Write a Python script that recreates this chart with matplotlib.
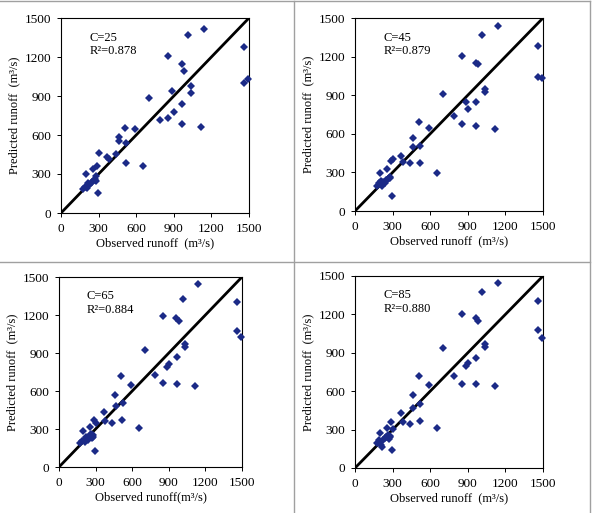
import numpy as np
import matplotlib.pyplot as plt
from matplotlib.lines import Line2D

plt.rcParams['font.family'] = ['Liberation Serif', 'DejaVu Serif']

# observed runoff (same for all four panels)
observed = [1141, 1017, 1463, 852, 963, 983, 1463, 1490, 1035, 1035,
            884, 704, 968, 905, 852, 790, 964, 1114, 508, 589,
            460, 464, 522, 437, 365, 380, 303, 520, 656, 254,
            290, 196, 292,
            175, 190, 205, 215, 225, 238, 250, 262, 270, 278, 282]

pred_c25 = [1413, 1372, 1277, 1210, 1149, 1092, 1003, 1031, 979, 921,
            936, 887, 838, 774, 731, 718, 687, 662, 654, 649,
            587, 554, 538, 456, 431, 412, 460, 384, 358, 342,
            363, 301, 157,
            187, 200, 190, 233, 218, 228, 240, 256, 259, 282, 250]
pred_c45 = [1438, 1365, 1280, 1202, 1150, 1145, 1039, 1030, 947, 927,
            848, 906, 846, 794, 675, 740, 659, 638, 690, 646,
            568, 496, 506, 376, 428, 378, 402, 370, 293, 330,
            389, 294, 117,
            195, 216, 236, 195, 225, 220, 240, 247, 255, 267, 258]
pred_c65 = [1445, 1329, 1303, 1195, 1174, 1153, 1074, 1024, 968, 947,
            789, 926, 866, 816, 663, 724, 658, 642, 716, 650,
            568, 480, 502, 350, 437, 364, 350, 368, 310, 315,
            369, 284, 126,
            189, 208, 216, 197, 237, 216, 250, 263, 232, 250, 240]
pred_c85 = [1443, 1375, 1302, 1200, 1172, 1146, 1076, 1016, 966, 945,
            797, 940, 859, 823, 659, 719, 659, 638, 719, 651,
            572, 471, 502, 340, 430, 357, 302, 366, 315, 310,
            357, 276, 141,
            193, 219, 180, 167, 219, 232, 245, 258, 230, 250, 240]

c_labels = ['C=25', 'C=45', 'C=65', 'C=85']
r2_labels = ['R\u00b2=0.878', 'R\u00b2=0.879', 'R\u00b2=0.884', 'R\u00b2=0.880']
x_titles = ['Observed runoff  (m\u00b3/s)', 'Observed runoff  (m\u00b3/s)',
            'Observed runoff(m\u00b3/s)', 'Observed runoff  (m\u00b3/s)']
ticks = [0, 300, 600, 900, 1200, 1500]

W, H = 593, 513
fig = plt.figure(figsize=(W / 100, H / 100), dpi=100)

# axes boxes in pixels: left, right, top, bottom
boxes = [(61, 249, 18, 213), (355, 543, 18, 211),
         (59, 242, 277, 467), (355, 543, 276, 468)]
preds = [pred_c25, pred_c45, pred_c65, pred_c85]

for i, (l, r, t, b) in enumerate(boxes):
    ax = fig.add_axes([l / W, (H - b) / H, (r - l) / W, (b - t) / H])
    ax.plot([0, 1500], [0, 1500], color='black', lw=2, zorder=2)
    ax.plot(observed, preds[i], 'D', color='#1b2a87', ms=4, mew=0, zorder=3,
            clip_on=False)
    ax.set_xlim(0, 1500)
    ax.set_ylim(0, 1500)
    ax.set_xticks(ticks)
    ax.set_yticks(ticks)
    ax.tick_params(labelsize=9.5, direction='out', length=3, width=0.7, pad=4)
    for s in ax.spines.values():
        s.set_linewidth(0.8)
    ax.set_xlabel(x_titles[i], fontsize=9, labelpad=2)
    ax.set_ylabel('Predicted runoff  (m\u00b3/s)', fontsize=9, labelpad=3)
    ax.text(0.15, 0.93, c_labels[i] + '\n' + r2_labels[i], transform=ax.transAxes,
            fontsize=9, va='top', ha='left', linespacing=1.15)

# panel frame lines
gray = '#a0a0a0'
fig.add_artist(Line2D([0, 590 / W], [1 - 1 / H, 1 - 1 / H], color=gray, lw=1))
fig.add_artist(Line2D([590 / W, 590 / W], [0, 1 - 1 / H], color=gray, lw=1))
fig.add_artist(Line2D([294 / W, 294 / W], [0, 1 - 1 / H], color=gray, lw=1))
fig.add_artist(Line2D([0, 590 / W], [1 - 262 / H, 1 - 262 / H], color=gray, lw=1))

fig.savefig('out.png', dpi=100)
